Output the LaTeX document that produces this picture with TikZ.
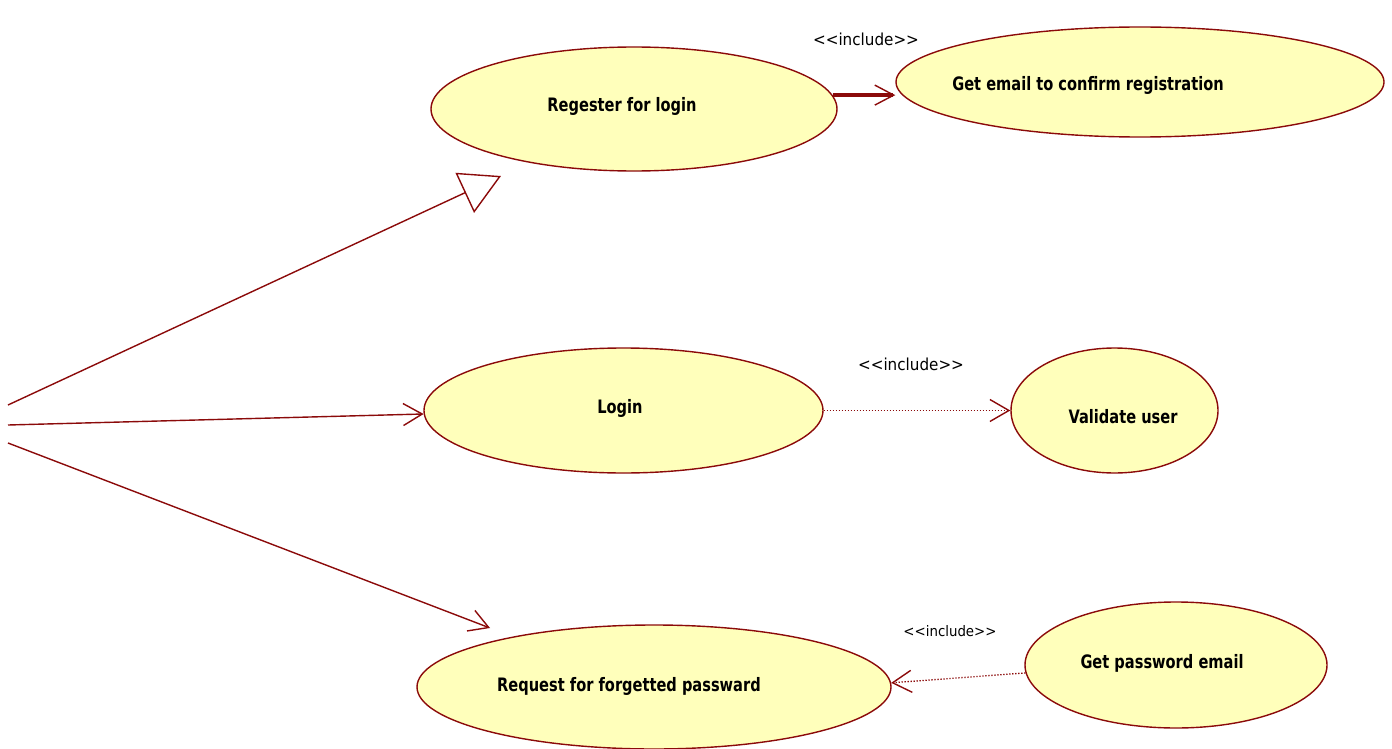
\documentclass[tikz,border=0pt]{standalone}
\usepackage{fontspec}
\usetikzlibrary{shapes.geometric,arrows.meta}
\newfontfamily\ucfont{DejaVu Sans}[FakeStretch=0.79]
\newfontfamily\inclfont{DejaVu Sans}[FakeStretch=0.92]
\definecolor{ucline}{HTML}{8B0A0A}
\definecolor{ucfill}{HTML}{FFFFBB}
\tikzset{
  uc/.style={ellipse, draw=ucline, fill=ucfill, line width=1.4pt, inner sep=0pt},
  uctext/.style={font=\ucfont\bfseries\fontsize{18.5}{20}\selectfont, text=black, inner sep=0pt},
  incltext/.style={font=\inclfont\fontsize{16.5}{18}\selectfont, text=black, inner sep=0pt},
  assoc/.style={draw=ucline, line width=1.4pt},
  incl/.style={draw=ucline, line width=1.3pt, dash pattern=on 1.3pt off 1.7pt},
  barb/.style={-{Straight Barb[length=19pt, width=22pt, line width=1.4pt]}},
}
\begin{document}
\begin{tikzpicture}[x=1pt, y=-1pt]
\useasboundingbox (0,0) rectangle (1392,749);
% use cases
\node[uc, minimum width=406pt, minimum height=124pt] (reg) at (634,109) {};
\node[uc, minimum width=488pt, minimum height=110pt] (gem) at (1140,82) {};
\node[uc, minimum width=399pt, minimum height=125pt] (login) at (623.5,410.5) {};
\node[uc, minimum width=207pt, minimum height=125pt] (val) at (1114.5,410.5) {};
\node[uc, minimum width=474pt, minimum height=124pt] (req) at (654,687) {};
\node[uc, minimum width=302pt, minimum height=126pt] (gpe) at (1176,665) {};
% texts
\node[uctext] (regt) at (622,106) {Regester for login};
\node[uctext] (gemt) at (1088,85) {Get email to confirm registration};
\node[uctext] (logint) at (620,408) {Login};
\node[uctext] (valt) at (1123,417) {Validate user};
\node[uctext] (reqt) at (629,686) {Request for forgetted passward};
\node[uctext] (gpet) at (1162,663) {Get password email};
% include labels
\node[incltext] (i1) at (866,39) {\textless\textless include\textgreater\textgreater};
\node[incltext] (i2) at (911,364) {\textless\textless include\textgreater\textgreater};
\node[incltext, font=\inclfont\fontsize{14.5}{16}\selectfont] (i3) at (950,631) {\textless\textless include\textgreater\textgreater};
% actor connector ends
\coordinate (a1) at (8,405);
\coordinate (a2) at (8,425);
\coordinate (a3) at (8,443);
\coordinate (t1) at (501,176);
\coordinate (t3) at (490,628);
% actor associations
\draw[assoc, -{Triangle[open, length=40pt, width=44pt, line width=1.4pt]}] (a1) -- (t1);
\draw[assoc, barb] (a2) -- (login.181.6);
\draw[assoc, barb] (a3) -- (t3);
% includes
\draw[draw=ucline, line width=4pt, -{Straight Barb[length=19pt, width=20pt, line width=1.4pt]}] (reg.4.6) -- (reg.4.6 -| gem.west);
\draw[incl, barb] (login.east) -- (val.west);
\draw[incl, barb] (gpe.183.1) -- (req.1.9);
\end{tikzpicture}
\end{document}
